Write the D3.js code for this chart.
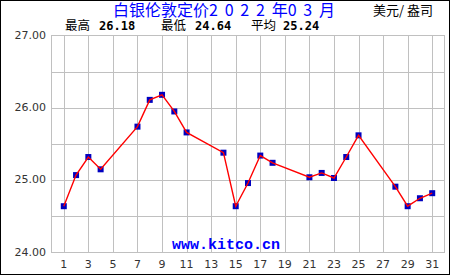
<!DOCTYPE html>
<html>
<head>
<meta charset="utf-8">
<script src="https://d3js.org/d3.v7.min.js"></script>
<style>
  body { margin: 0; background: #fff; }
  svg { display: block; }
</style>
</head>
<body>
<svg width="450" height="275"></svg>
<script>
// silver London fix, March 2022 (USD / oz)
var days = [1, 2, 3, 4, 7, 8, 9, 10, 11, 14, 15, 16, 17, 18, 21, 22, 23, 24, 25, 28, 29, 30, 31];
var prices = [24.64, 25.07, 25.32, 25.15, 25.74, 26.11, 26.18, 25.95, 25.66, 25.38, 24.64, 24.96,
              25.34, 25.24, 25.04, 25.10, 25.03, 25.32, 25.62, 24.91, 24.64, 24.75, 24.82];
var yTicks = [24, 25, 26, 27];
var yGrid = [24.5, 25, 25.5, 26, 26.5];
var xTicks = d3.range(1, 32, 2);
// title pieces: [text, is digit run]
var titleParts = [["白银伦敦定价", false], ["2 0 2 2 ", true], ["年", false], ["0 3 ", true], ["月", false]];
var unit = "美元/ 盎司";
var statLabels = ["最高", "最低", "平均"];
var statValues = ["26.18", "24.64", "25.24"];

var svg = d3.select("svg"),
    width = +svg.attr("width"),
    height = +svg.attr("height");

var pLeft = 51.5, pRight = 444.5, pTop = 35.5, pBottom = 252.5;

var x = d3.scaleLinear().domain([0, 32]).range([pLeft, pRight]);
var y = d3.scaleLinear().domain([24, 27]).range([pBottom, pTop]);

// outer frame
svg.append("rect")
    .attr("x", 0.5).attr("y", 0.5)
    .attr("width", width - 1).attr("height", height - 1)
    .attr("fill", "#fff").attr("stroke", "#000");

var grid = svg.append("g").attr("stroke", "#c0c0c0").attr("stroke-width", 1);

grid.selectAll("line.v")
    .data(xTicks)
    .enter().append("line")
    .attr("x1", function(d) { return Math.round(x(d)) + 0.5; })
    .attr("x2", function(d) { return Math.round(x(d)) + 0.5; })
    .attr("y1", pTop).attr("y2", pBottom);

grid.selectAll("line.h")
    .data(yGrid)
    .enter().append("line")
    .attr("x1", pLeft).attr("x2", pRight)
    .attr("y1", function(d) { return Math.round(y(d)) + 0.5; })
    .attr("y2", function(d) { return Math.round(y(d)) + 0.5; });

grid.append("rect")
    .attr("x", pLeft).attr("y", pTop)
    .attr("width", pRight - pLeft).attr("height", pBottom - pTop)
    .attr("fill", "none");

// y labels
svg.append("g")
    .attr("font-family", "DejaVu Sans")
    .attr("font-size", 11)
    .attr("fill", "#333")
    .attr("text-anchor", "end")
    .selectAll("text")
    .data(yTicks)
    .enter().append("text")
    .attr("x", 46)
    .attr("y", function(d) { return y(d) + 3; })
    .text(function(d) { return d.toFixed(2); });

// x labels
svg.append("g")
    .attr("font-family", "DejaVu Sans")
    .attr("font-size", 11)
    .attr("fill", "#333")
    .attr("text-anchor", "middle")
    .selectAll("text")
    .data(xTicks)
    .enter().append("text")
    .attr("x", function(d) { return x(d); })
    .attr("y", 268)
    .text(function(d) { return d; });

// watermark
svg.append("text")
    .attr("x", 226).attr("y", 249)
    .attr("text-anchor", "middle")
    .attr("font-family", "Liberation Mono")
    .attr("font-weight", "bold")
    .attr("font-size", 15)
    .attr("fill", "#0000ff")
    .text("www.kitco.cn");

var data = days.map(function(d, i) { return [d, prices[i]]; });

// markers
svg.append("g")
    .attr("fill", "#0000c0")
    .selectAll("rect")
    .data(data)
    .enter().append("rect")
    .attr("x", function(d) { return x(d[0]) - 3; })
    .attr("y", function(d) { return y(d[1]) - 3; })
    .attr("width", 6).attr("height", 6);

// line
svg.append("path")
    .datum(data)
    .attr("fill", "none")
    .attr("stroke", "#ff0000")
    .attr("stroke-width", 1.4)
    .attr("d", d3.line()
        .x(function(d) { return x(d[0]); })
        .y(function(d) { return y(d[1]); }));

// title
svg.append("text")
    .attr("x", 113).attr("y", 16)
    .attr("font-family", "Noto Sans CJK SC")
    .attr("font-size", 16)
    .attr("fill", "#0000ff")
    .attr("xml:space", "preserve")
    .style("white-space", "pre")
    .selectAll("tspan")
    .data(titleParts)
    .enter().append("tspan")
    .attr("letter-spacing", function(d) { return d[1] ? 1.6 : 0; })
    .text(function(d) { return d[0]; });

svg.append("text")
    .attr("x", 433).attr("y", 15)
    .attr("text-anchor", "end")
    .attr("font-family", "Noto Sans CJK SC")
    .attr("font-size", 13)
    .attr("fill", "#000")
    .attr("xml:space", "preserve")
    .style("white-space", "pre")
    .text(unit);

var statX = [65, 161, 251];
var st = svg.append("g")
    .selectAll("g")
    .data(statLabels)
    .enter().append("g")
    .attr("transform", function(d, i) { return "translate(" + statX[i] + ",30)"; });

st.append("text")
    .attr("font-family", "Noto Sans CJK SC")
    .attr("font-size", 12.5)
    .text(function(d) { return d; });

st.append("text")
    .attr("x", function(d, i) { return i === 2 ? 32 : 34; })
    .attr("font-family", "DejaVu Sans Mono")
    .attr("font-weight", "bold")
    .attr("font-size", 12)
    .text(function(d, i) { return statValues[i]; });
</script>
</body>
</html>
